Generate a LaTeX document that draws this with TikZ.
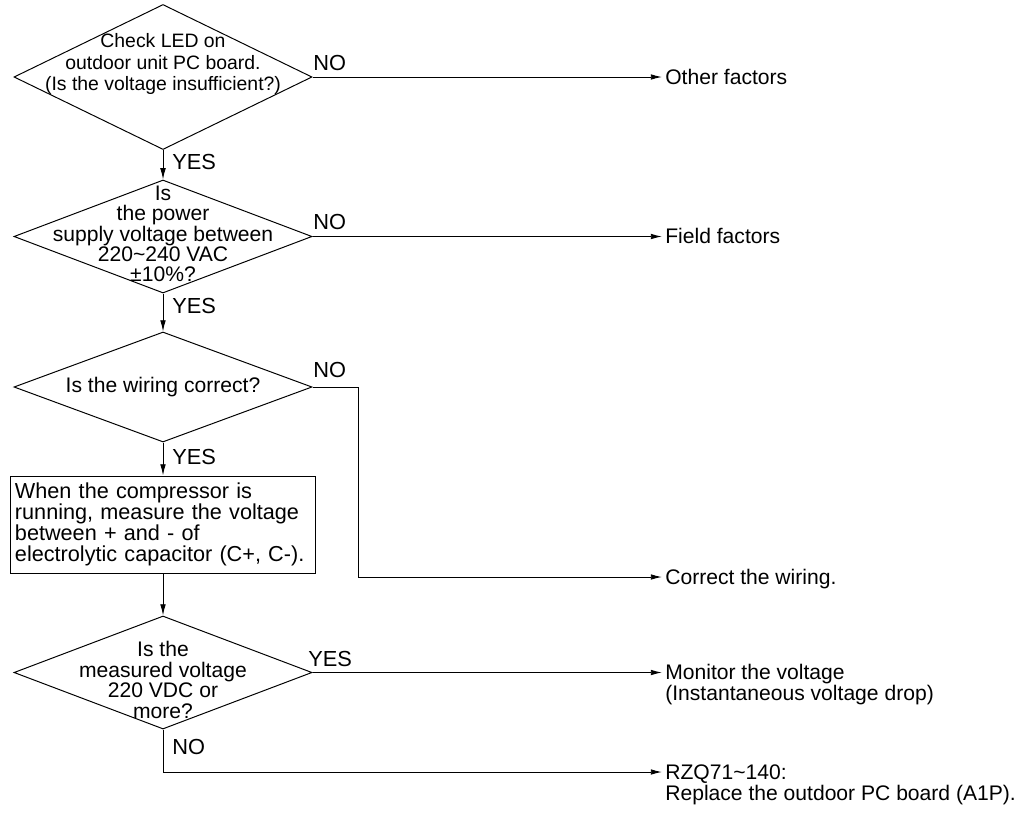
\documentclass[tikz,border=0pt]{standalone}
\usepackage{fontspec}
\setmainfont{Liberation Sans}
\usetikzlibrary{arrows.meta,shapes.geometric}

\begin{document}
\begin{tikzpicture}[x=0.025cm,y=-0.025cm,line width=0.7pt,
    every node/.style={font=\fontsize{15}{14.5}\selectfont},
    dec/.style={draw,diamond,inner sep=0pt,minimum width=7.45cm},
    txt/.style={align=center,inner sep=0pt},
    arr/.style={-{Latex[length=8pt,width=4pt]}},
    lab/.style={anchor=west,inner sep=2pt,text height=10pt,text depth=0pt,
      font=\fontsize{15.5}{15}\selectfont},
    res/.style={anchor=west,inner sep=2pt,text height=10pt,text depth=0pt}]
  \useasboundingbox (0,0) rectangle (1036,815);

  % decisions and the check box
  \node[dec,minimum height=3.625cm] (d1) at (163,77) {};
  \node[txt,font=\fontsize{13.8}{15}\selectfont] (t1) at (163,64)
    {Check LED on\\outdoor unit PC board.\\(Is the voltage insufficient?)};
  \node[dec,minimum height=2.825cm] (d2) at (163,236.5) {};
  \node[txt] (t2) at (163,234) {Is\\the power\\supply voltage between\\220\textasciitilde240 VAC\\\textpm10\%?};
  \node[dec,minimum height=2.75cm] (d3) at (163,387) {};
  \node[txt] (t3) at (163,387) {Is the wiring correct?};
  \node[draw,minimum width=7.6cm,minimum height=2.425cm,text width=7.4cm,
        inner xsep=0.1cm,align=left,font=\fontsize{15.4}{15}\selectfont] (b1) at (163,524.5)
        {When the compressor is\\running, measure the voltage\\between + and - of\\electrolytic capacitor (C+, C-).};
  \node[dec,minimum height=2.825cm] (d4) at (163,672.5) {};
  \node[txt] (t4) at (163,680) {Is the\\measured voltage\\220 VDC or\\more?};

  % results
  \node[res] (r1) at (662,77) {Other factors};
  \node[res] (r2) at (662,236.5) {Field factors};
  \node[res] (r3) at (662,577) {Correct the wiring.};
  \node[res] (r4) at (662,672.5) {Monitor the voltage};
  \node[res] (r4b) at (662,693) {(Instantaneous voltage drop)};
  \node[res] (r5) at (662,772) {RZQ71\textasciitilde140:};
  \node[res] (r5b) at (662,793) {Replace the outdoor PC board (A1P).};

  % answers
  \node[lab] (n1) at (310,63) {NO};
  \node[lab] (y1) at (169,162) {YES};
  \node[lab] (n2) at (310,222) {NO};
  \node[lab] (y2) at (169,306) {YES};
  \node[lab] (n3) at (310,370) {NO};
  \node[lab] (y3) at (169,457) {YES};
  \node[lab] (y4) at (305,659) {YES};
  \node[lab] (n4) at (169,747) {NO};

  \coordinate (k3) at (358,387);
  \draw[arr] (d1.east) -- (r1.west);
  \draw[arr] (d1.south) -- (d2.north);
  \draw[arr] (d2.east) -- (r2.west);
  \draw[arr] (d2.south) -- (d3.north);
  \draw[arr] (d3.east) -- (k3) |- (r3.west);
  \draw[arr] (d3.south) -- (b1.north);
  \draw[arr] (b1.south) -- (d4.north);
  \draw[arr] (d4.east) -- (r4.west);
  \draw[arr] (d4.south) |- (r5.west);
\end{tikzpicture}
\end{document}
